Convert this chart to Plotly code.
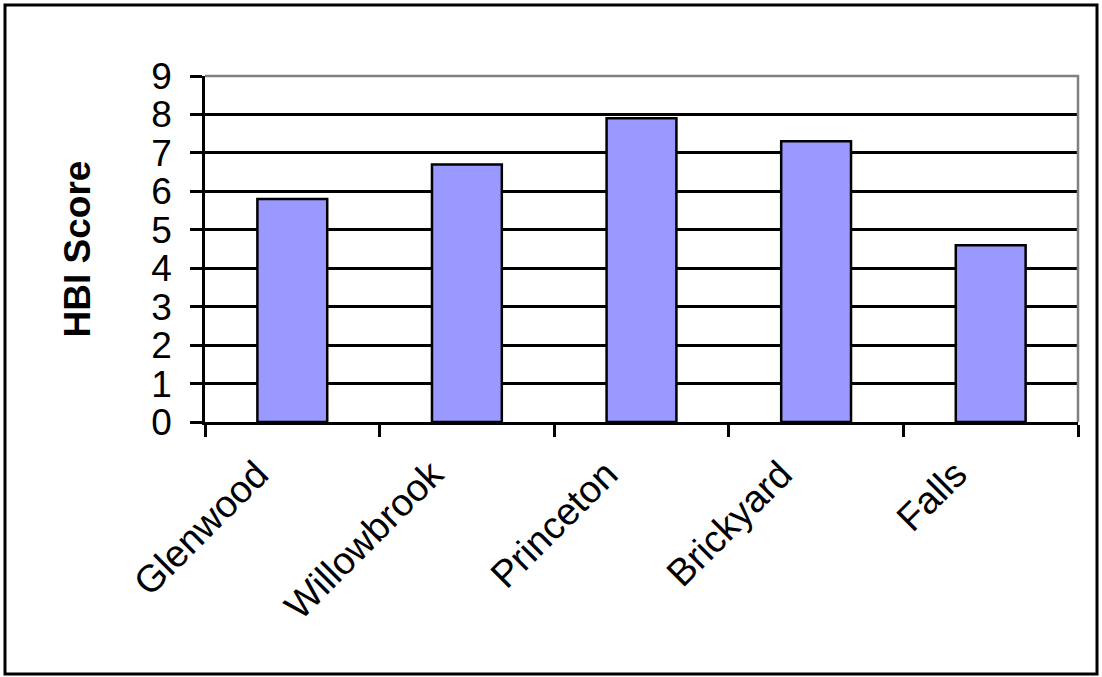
import plotly.graph_objects as go

# HBI score per stream site
sites = ["Glenwood", "Willowbrook", "Princeton", "Brickyard", "Falls"]
hbi_scores = [5.8, 6.7, 7.9, 7.3, 4.6]
y_ticks = [0, 1, 2, 3, 4, 5, 6, 7, 8, 9]

FONT = "Liberation Sans, Arial, sans-serif"

W, H = 1102, 677
L, R, T, B = 205, 24, 76, 255
pw, ph = W - L - R, H - T - B

def px_to_paper(x, y):
    return (x - L) / pw, (H - B - y) / ph

fig = go.Figure(
    go.Bar(
        x=sites,
        y=hbi_scores,
        marker=dict(color="#9999FF", line=dict(color="black", width=2.5)),
        hoverinfo="x+y",
    )
)

# Outer chart frame
x0, y0 = px_to_paper(5, 5)
x1, y1 = px_to_paper(1097, 674)
fig.add_shape(type="rect", xref="paper", yref="paper", x0=x0, y0=y1, x1=x1, y1=y0,
              line=dict(color="black", width=3), layer="below")
# Gray plot-area border along the top and right
fig.add_shape(type="path", xref="paper", yref="paper",
              path="M 0,1 L 1,1 L 1,0", line=dict(color="#808080", width=2.5), layer="above")

fig.update_layout(
    width=W, height=H,
    margin=dict(l=L, r=R, t=T, b=B, autoexpand=False),
    paper_bgcolor="white", plot_bgcolor="white",
    bargap=0.6,
    showlegend=False,
    font=dict(family=FONT, color="black"),
    xaxis=dict(
        type="category",
        tickson="boundaries",
        ticks="outside", ticklen=12, tickwidth=2.5, tickcolor="black",
        showline=True, linecolor="black", linewidth=2.5,
        showgrid=False,
        tickangle=-45,
        tickfont=dict(size=38, family=FONT, color="black"),
        ticklabelstandoff=12,
        ticklabelshift=-35,
    ),
    yaxis=dict(
        range=[0, 9],
        tickvals=y_ticks,
        ticks="outside", ticklen=12, tickwidth=2.5, tickcolor="black",
        showline=True, linecolor="black", linewidth=2.5,
        showgrid=True, gridcolor="black", gridwidth=2.5,
        zeroline=False,
        tickfont=dict(size=37, family=FONT, color="black"),
        ticklabelstandoff=11,
        title=dict(text="<b>HBI Score</b>", font=dict(size=37, family=FONT, color="black"),
                   standoff=50),
    ),
)

fig.write_html("out.html")
